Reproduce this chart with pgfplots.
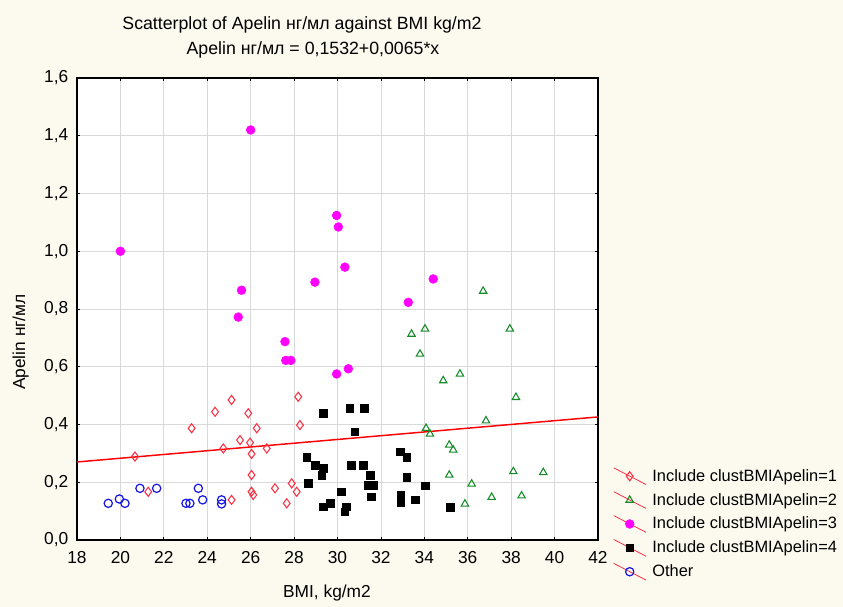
\documentclass[border=0pt]{standalone}
\usepackage{pgfplots}
\pgfplotsset{compat=1.18}
\usepackage{fontspec}
\setmainfont{Liberation Sans}

\definecolor{bgcream}{RGB}{252,249,239}
\definecolor{statgreen}{RGB}{20,140,40}
\definecolor{statred}{RGB}{250,50,70}
\definecolor{statblue}{RGB}{20,20,230}
\definecolor{statmag}{RGB}{255,0,255}

\newcommand{\fs}{\fontsize{13}{15.5}\selectfont}
\newcommand{\fst}{\fontsize{13.3}{16}\selectfont}
\newcommand{\fsl}{\fontsize{12.3}{15.5}\selectfont}

\begin{document}
\begin{tikzpicture}
\fill[bgcream] (0,0) rectangle (632.25pt,455.25pt);

\begin{axis}[
  at={(57.75pt,50.25pt)}, anchor=south west,
  scale only axis, width=390.75pt, height=346.5pt,
  xmin=18, xmax=42, ymin=0, ymax=1.6,
  xtick={18,20,22,24,26,28,30,32,34,36,38,40,42},
  ytick={0,0.2,0.4,0.6,0.8,1.0,1.2,1.4,1.6},
  axis background/.style={fill=white},
  axis line style={line width=1.1pt, black},
  tick align=inside, major tick length=2pt,
  tick style={black, line width=0.5pt},
  grid=major, grid style={gray!30, line width=0.5pt},
  /pgf/number format/assume math mode=true,
  ticklabel style={font=\fs},
  xticklabel style={yshift=-5pt},
  yticklabel style={xshift=-3pt, /pgf/number format/.cd, fixed, fixed zerofill, precision=1, use comma},
  legend cell align=left,
  legend style={at={(axis description cs:1.029,0.158)}, anchor=north west,
    draw=none, fill=none, font=\fsl, inner sep=0pt, row sep=4.5pt,
    nodes={inner sep=1.5pt},
    /tikz/every odd column/.append style={column sep=3pt}},
  legend image code/.code={
    \draw[statred, line width=0.6pt] (0cm,0.22cm) -- (0.85cm,-0.22cm);
    \draw[#1] plot coordinates {(0.42cm,0cm)};
  },
]

% regression line
\addplot[red, line width=1.1pt, forget plot] coordinates {(18,0.2702) (42,0.4262)};

% cluster 1
\addplot[only marks, mark=diamond, mark size=3.4pt, statred, mark options={line width=0.8pt}] coordinates {
  (25.12,0.485) (24.36,0.444) (25.89,0.439) (28.19,0.496) (23.28,0.387)
  (26.28,0.387) (28.27,0.398) (25.51,0.346) (25.97,0.337) (24.74,0.317)
  (26.74,0.317) (26.04,0.298) (20.67,0.289) (26.04,0.225) (21.28,0.167)
  (26.04,0.167) (26.12,0.156) (27.12,0.179) (27.89,0.196) (28.12,0.167)
  (27.66,0.127) (25.12,0.139)
};
\addlegendentry{Include clustBMIApelin=1}

% cluster 2
\addplot[only marks, mark=triangle, mark size=3.2pt, statgreen, mark options={line width=0.8pt}] coordinates {
  (36.71,0.862) (33.41,0.713) (34.03,0.731) (37.94,0.731) (33.80,0.644)
  (34.87,0.552) (35.64,0.575) (38.22,0.494) (36.84,0.413) (34.08,0.387)
  (34.26,0.367) (35.15,0.329) (35.33,0.312) (35.15,0.225) (38.10,0.237)
  (39.48,0.234) (36.18,0.194) (37.10,0.148) (38.48,0.153) (35.87,0.125)
};
\addlegendentry{Include clustBMIApelin=2}

% cluster 3
\addplot[only marks, mark=*, mark size=3.3pt, statmag, mark options={draw=statmag, fill=statmag}] coordinates {
  (26.00,1.420) (20.00,1.000) (29.96,1.124) (30.04,1.084) (30.34,0.945)
  (28.96,0.893) (25.58,0.865) (25.43,0.772) (27.58,0.687) (27.62,0.622)
  (27.85,0.622) (29.96,0.575) (30.50,0.593) (33.26,0.823) (34.41,0.904)
};
\addlegendentry{Include clustBMIApelin=3}

% cluster 4
\addplot[only marks, mark=square*, mark size=2.9pt, black] coordinates {
  (29.35,0.439) (30.57,0.456) (31.22,0.456) (30.80,0.375) (28.58,0.286)
  (28.96,0.260) (29.35,0.248) (29.27,0.225) (30.62,0.260) (31.19,0.260)
  (31.50,0.225) (31.42,0.190) (31.65,0.190) (28.65,0.196) (30.19,0.167)
  (31.57,0.150) (29.35,0.115) (29.65,0.127) (30.42,0.115) (30.34,0.098)
  (32.88,0.306) (33.19,0.286) (33.19,0.217) (34.03,0.188) (32.92,0.155)
  (32.92,0.130) (33.57,0.139) (35.18,0.113)
};
\addlegendentry{Include clustBMIApelin=4}

% other
\addplot[only marks, mark=o, mark size=3.1pt, statblue, mark options={line width=0.9pt}] coordinates {
  (19.44,0.127) (19.95,0.142) (20.21,0.127) (20.90,0.179) (21.67,0.179)
  (23.02,0.127) (23.20,0.127) (23.59,0.179) (23.79,0.139) (24.66,0.139)
  (24.66,0.125)
};
\addlegendentry{Other}
\end{axis}

\node[font=\fst] at (226.5pt,436.5pt) {Scatterplot of Apelin нг/мл against BMI kg/m2};
\node[font=\fst] at (234.75pt,417.75pt) {Apelin нг/мл = 0,1532+0,0065*x};
\node[font=\fs, rotate=90] at (15.5pt,198.75pt) {Apelin нг/мл};
\node[font=\fs] at (245.25pt,10.5pt) {BMI, kg/m2};

\pgfresetboundingbox
\useasboundingbox (0,0) rectangle (632.25pt,455.25pt);
\end{tikzpicture}
\end{document}
